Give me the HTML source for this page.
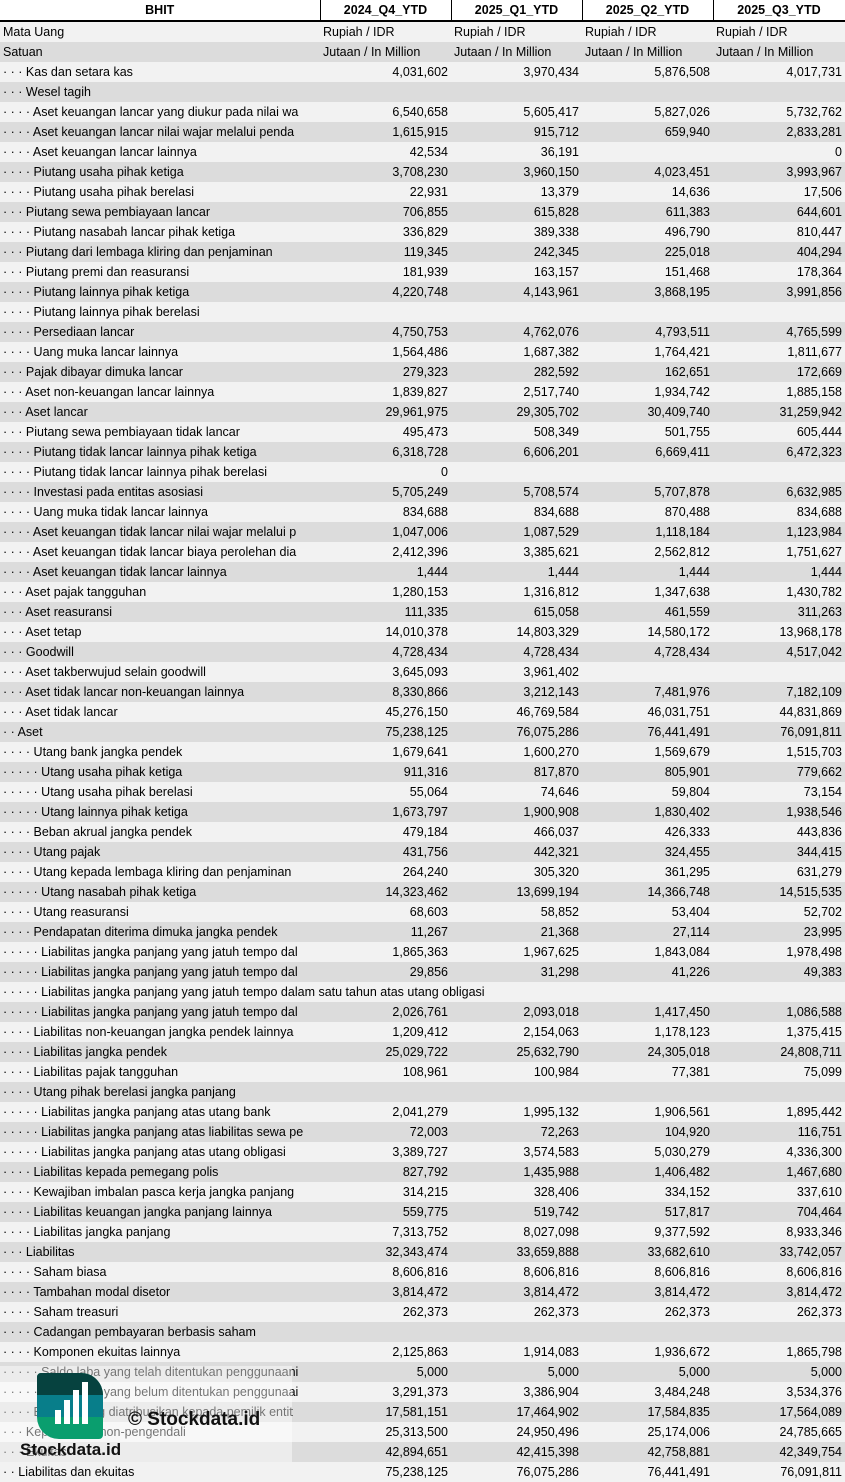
<!DOCTYPE html>
<html><head><meta charset="utf-8"><style>
*{margin:0;padding:0;box-sizing:border-box}
body{width:845px;height:1481px;overflow:hidden;background:#fff;font-family:"Liberation Sans",Arial,sans-serif;font-size:12.5px;color:#000;position:relative}
table{border-collapse:collapse;table-layout:fixed;width:845px}
td{height:20px;line-height:20px;white-space:nowrap;overflow:hidden;padding:0 3px}
td.n{text-align:right}
tr:nth-child(even) td{background:#f2f2f2}
tr:nth-child(odd) td{background:#dcdcdc}
tr.h td{background:#fff;font-weight:bold;text-align:center;border-bottom:2px solid #000;border-left:1px solid #000;height:21px;line-height:20px}
tr.h td:first-child{border-left:none}
tr.h td:last-child{border-right:1px solid #000}
.wm{position:absolute;left:0;top:1366px;width:292px;height:96px;background:rgba(255,255,255,0.45)}
.logo{position:absolute;left:37px;top:1373px;width:66px;height:66px;border-radius:4px 22px 4px 22px;overflow:hidden;background:#0a9e6e}
.logo .a{position:absolute;left:0;top:0;width:66px;height:22px;background:#06423f}
.logo .b{position:absolute;left:0;top:22px;width:66px;height:22px;background:#087e8a}
.bar{position:absolute;bottom:15px;width:6px;background:#fff}
.c1{position:absolute;left:128px;top:1409px;font-weight:bold;font-size:19px;color:#111}
.c2{position:absolute;left:20px;top:1440px;font-weight:bold;font-size:17px;color:#111}
</style></head><body>
<table>
<colgroup><col style="width:320px"><col style="width:131px"><col style="width:131px"><col style="width:131px"><col style="width:132px"></colgroup>
<tr class="h"><td>BHIT</td><td>2024_Q4_YTD</td><td>2025_Q1_YTD</td><td>2025_Q2_YTD</td><td>2025_Q3_YTD</td></tr>
<tr><td>Mata Uang</td><td>Rupiah / IDR</td><td>Rupiah / IDR</td><td>Rupiah / IDR</td><td>Rupiah / IDR</td></tr>
<tr><td>Satuan</td><td>Jutaan / In Million</td><td>Jutaan / In Million</td><td>Jutaan / In Million</td><td>Jutaan / In Million</td></tr>
<tr><td>· · · Kas dan setara kas</td><td class="n">4,031,602</td><td class="n">3,970,434</td><td class="n">5,876,508</td><td class="n">4,017,731</td></tr>
<tr><td>· · · Wesel tagih</td><td></td><td></td><td></td><td></td></tr>
<tr><td>· · · · Aset keuangan lancar yang diukur pada nilai wa</td><td class="n">6,540,658</td><td class="n">5,605,417</td><td class="n">5,827,026</td><td class="n">5,732,762</td></tr>
<tr><td>· · · · Aset keuangan lancar nilai wajar melalui penda</td><td class="n">1,615,915</td><td class="n">915,712</td><td class="n">659,940</td><td class="n">2,833,281</td></tr>
<tr><td>· · · · Aset keuangan lancar lainnya</td><td class="n">42,534</td><td class="n">36,191</td><td class="n"></td><td class="n">0</td></tr>
<tr><td>· · · · Piutang usaha pihak ketiga</td><td class="n">3,708,230</td><td class="n">3,960,150</td><td class="n">4,023,451</td><td class="n">3,993,967</td></tr>
<tr><td>· · · · Piutang usaha pihak berelasi</td><td class="n">22,931</td><td class="n">13,379</td><td class="n">14,636</td><td class="n">17,506</td></tr>
<tr><td>· · · Piutang sewa pembiayaan lancar</td><td class="n">706,855</td><td class="n">615,828</td><td class="n">611,383</td><td class="n">644,601</td></tr>
<tr><td>· · · · Piutang nasabah lancar pihak ketiga</td><td class="n">336,829</td><td class="n">389,338</td><td class="n">496,790</td><td class="n">810,447</td></tr>
<tr><td>· · · Piutang dari lembaga kliring dan penjaminan</td><td class="n">119,345</td><td class="n">242,345</td><td class="n">225,018</td><td class="n">404,294</td></tr>
<tr><td>· · · Piutang premi dan reasuransi</td><td class="n">181,939</td><td class="n">163,157</td><td class="n">151,468</td><td class="n">178,364</td></tr>
<tr><td>· · · · Piutang lainnya pihak ketiga</td><td class="n">4,220,748</td><td class="n">4,143,961</td><td class="n">3,868,195</td><td class="n">3,991,856</td></tr>
<tr><td>· · · · Piutang lainnya pihak berelasi</td><td></td><td></td><td></td><td></td></tr>
<tr><td>· · · · Persediaan lancar</td><td class="n">4,750,753</td><td class="n">4,762,076</td><td class="n">4,793,511</td><td class="n">4,765,599</td></tr>
<tr><td>· · · · Uang muka lancar lainnya</td><td class="n">1,564,486</td><td class="n">1,687,382</td><td class="n">1,764,421</td><td class="n">1,811,677</td></tr>
<tr><td>· · · Pajak dibayar dimuka lancar</td><td class="n">279,323</td><td class="n">282,592</td><td class="n">162,651</td><td class="n">172,669</td></tr>
<tr><td>· · · Aset non-keuangan lancar lainnya</td><td class="n">1,839,827</td><td class="n">2,517,740</td><td class="n">1,934,742</td><td class="n">1,885,158</td></tr>
<tr><td>· · · Aset lancar</td><td class="n">29,961,975</td><td class="n">29,305,702</td><td class="n">30,409,740</td><td class="n">31,259,942</td></tr>
<tr><td>· · · Piutang sewa pembiayaan tidak lancar</td><td class="n">495,473</td><td class="n">508,349</td><td class="n">501,755</td><td class="n">605,444</td></tr>
<tr><td>· · · · Piutang tidak lancar lainnya pihak ketiga</td><td class="n">6,318,728</td><td class="n">6,606,201</td><td class="n">6,669,411</td><td class="n">6,472,323</td></tr>
<tr><td>· · · · Piutang tidak lancar lainnya pihak berelasi</td><td class="n">0</td><td></td><td></td><td></td></tr>
<tr><td>· · · · Investasi pada entitas asosiasi</td><td class="n">5,705,249</td><td class="n">5,708,574</td><td class="n">5,707,878</td><td class="n">6,632,985</td></tr>
<tr><td>· · · · Uang muka tidak lancar lainnya</td><td class="n">834,688</td><td class="n">834,688</td><td class="n">870,488</td><td class="n">834,688</td></tr>
<tr><td>· · · · Aset keuangan tidak lancar nilai wajar melalui p</td><td class="n">1,047,006</td><td class="n">1,087,529</td><td class="n">1,118,184</td><td class="n">1,123,984</td></tr>
<tr><td>· · · · Aset keuangan tidak lancar biaya perolehan dia</td><td class="n">2,412,396</td><td class="n">3,385,621</td><td class="n">2,562,812</td><td class="n">1,751,627</td></tr>
<tr><td>· · · · Aset keuangan tidak lancar lainnya</td><td class="n">1,444</td><td class="n">1,444</td><td class="n">1,444</td><td class="n">1,444</td></tr>
<tr><td>· · · Aset pajak tangguhan</td><td class="n">1,280,153</td><td class="n">1,316,812</td><td class="n">1,347,638</td><td class="n">1,430,782</td></tr>
<tr><td>· · · Aset reasuransi</td><td class="n">111,335</td><td class="n">615,058</td><td class="n">461,559</td><td class="n">311,263</td></tr>
<tr><td>· · · Aset tetap</td><td class="n">14,010,378</td><td class="n">14,803,329</td><td class="n">14,580,172</td><td class="n">13,968,178</td></tr>
<tr><td>· · · Goodwill</td><td class="n">4,728,434</td><td class="n">4,728,434</td><td class="n">4,728,434</td><td class="n">4,517,042</td></tr>
<tr><td>· · · Aset takberwujud selain goodwill</td><td class="n">3,645,093</td><td class="n">3,961,402</td><td></td><td></td></tr>
<tr><td>· · · Aset tidak lancar non-keuangan lainnya</td><td class="n">8,330,866</td><td class="n">3,212,143</td><td class="n">7,481,976</td><td class="n">7,182,109</td></tr>
<tr><td>· · · Aset tidak lancar</td><td class="n">45,276,150</td><td class="n">46,769,584</td><td class="n">46,031,751</td><td class="n">44,831,869</td></tr>
<tr><td>· · Aset</td><td class="n">75,238,125</td><td class="n">76,075,286</td><td class="n">76,441,491</td><td class="n">76,091,811</td></tr>
<tr><td>· · · · Utang bank jangka pendek</td><td class="n">1,679,641</td><td class="n">1,600,270</td><td class="n">1,569,679</td><td class="n">1,515,703</td></tr>
<tr><td>· · · · · Utang usaha pihak ketiga</td><td class="n">911,316</td><td class="n">817,870</td><td class="n">805,901</td><td class="n">779,662</td></tr>
<tr><td>· · · · · Utang usaha pihak berelasi</td><td class="n">55,064</td><td class="n">74,646</td><td class="n">59,804</td><td class="n">73,154</td></tr>
<tr><td>· · · · · Utang lainnya pihak ketiga</td><td class="n">1,673,797</td><td class="n">1,900,908</td><td class="n">1,830,402</td><td class="n">1,938,546</td></tr>
<tr><td>· · · · Beban akrual jangka pendek</td><td class="n">479,184</td><td class="n">466,037</td><td class="n">426,333</td><td class="n">443,836</td></tr>
<tr><td>· · · · Utang pajak</td><td class="n">431,756</td><td class="n">442,321</td><td class="n">324,455</td><td class="n">344,415</td></tr>
<tr><td>· · · · Utang kepada lembaga kliring dan penjaminan</td><td class="n">264,240</td><td class="n">305,320</td><td class="n">361,295</td><td class="n">631,279</td></tr>
<tr><td>· · · · · Utang nasabah pihak ketiga</td><td class="n">14,323,462</td><td class="n">13,699,194</td><td class="n">14,366,748</td><td class="n">14,515,535</td></tr>
<tr><td>· · · · Utang reasuransi</td><td class="n">68,603</td><td class="n">58,852</td><td class="n">53,404</td><td class="n">52,702</td></tr>
<tr><td>· · · · Pendapatan diterima dimuka jangka pendek</td><td class="n">11,267</td><td class="n">21,368</td><td class="n">27,114</td><td class="n">23,995</td></tr>
<tr><td>· · · · · Liabilitas jangka panjang yang jatuh tempo dal</td><td class="n">1,865,363</td><td class="n">1,967,625</td><td class="n">1,843,084</td><td class="n">1,978,498</td></tr>
<tr><td>· · · · · Liabilitas jangka panjang yang jatuh tempo dal</td><td class="n">29,856</td><td class="n">31,298</td><td class="n">41,226</td><td class="n">49,383</td></tr>
<tr><td colspan="5">· · · · · Liabilitas jangka panjang yang jatuh tempo dalam satu tahun atas utang obligasi</td></tr>
<tr><td>· · · · · Liabilitas jangka panjang yang jatuh tempo dal</td><td class="n">2,026,761</td><td class="n">2,093,018</td><td class="n">1,417,450</td><td class="n">1,086,588</td></tr>
<tr><td>· · · · Liabilitas non-keuangan jangka pendek lainnya</td><td class="n">1,209,412</td><td class="n">2,154,063</td><td class="n">1,178,123</td><td class="n">1,375,415</td></tr>
<tr><td>· · · · Liabilitas jangka pendek</td><td class="n">25,029,722</td><td class="n">25,632,790</td><td class="n">24,305,018</td><td class="n">24,808,711</td></tr>
<tr><td>· · · · Liabilitas pajak tangguhan</td><td class="n">108,961</td><td class="n">100,984</td><td class="n">77,381</td><td class="n">75,099</td></tr>
<tr><td>· · · · Utang pihak berelasi jangka panjang</td><td></td><td></td><td></td><td></td></tr>
<tr><td>· · · · · Liabilitas jangka panjang atas utang bank</td><td class="n">2,041,279</td><td class="n">1,995,132</td><td class="n">1,906,561</td><td class="n">1,895,442</td></tr>
<tr><td>· · · · · Liabilitas jangka panjang atas liabilitas sewa pe</td><td class="n">72,003</td><td class="n">72,263</td><td class="n">104,920</td><td class="n">116,751</td></tr>
<tr><td>· · · · · Liabilitas jangka panjang atas utang obligasi</td><td class="n">3,389,727</td><td class="n">3,574,583</td><td class="n">5,030,279</td><td class="n">4,336,300</td></tr>
<tr><td>· · · · Liabilitas kepada pemegang polis</td><td class="n">827,792</td><td class="n">1,435,988</td><td class="n">1,406,482</td><td class="n">1,467,680</td></tr>
<tr><td>· · · · Kewajiban imbalan pasca kerja jangka panjang</td><td class="n">314,215</td><td class="n">328,406</td><td class="n">334,152</td><td class="n">337,610</td></tr>
<tr><td>· · · · Liabilitas keuangan jangka panjang lainnya</td><td class="n">559,775</td><td class="n">519,742</td><td class="n">517,817</td><td class="n">704,464</td></tr>
<tr><td>· · · · Liabilitas jangka panjang</td><td class="n">7,313,752</td><td class="n">8,027,098</td><td class="n">9,377,592</td><td class="n">8,933,346</td></tr>
<tr><td>· · · Liabilitas</td><td class="n">32,343,474</td><td class="n">33,659,888</td><td class="n">33,682,610</td><td class="n">33,742,057</td></tr>
<tr><td>· · · · Saham biasa</td><td class="n">8,606,816</td><td class="n">8,606,816</td><td class="n">8,606,816</td><td class="n">8,606,816</td></tr>
<tr><td>· · · · Tambahan modal disetor</td><td class="n">3,814,472</td><td class="n">3,814,472</td><td class="n">3,814,472</td><td class="n">3,814,472</td></tr>
<tr><td>· · · · Saham treasuri</td><td class="n">262,373</td><td class="n">262,373</td><td class="n">262,373</td><td class="n">262,373</td></tr>
<tr><td>· · · · Cadangan pembayaran berbasis saham</td><td></td><td></td><td></td><td></td></tr>
<tr><td>· · · · Komponen ekuitas lainnya</td><td class="n">2,125,863</td><td class="n">1,914,083</td><td class="n">1,936,672</td><td class="n">1,865,798</td></tr>
<tr><td>· · · · · Saldo laba yang telah ditentukan penggunaani</td><td class="n">5,000</td><td class="n">5,000</td><td class="n">5,000</td><td class="n">5,000</td></tr>
<tr><td>· · · · · Saldo laba yang belum ditentukan penggunaai</td><td class="n">3,291,373</td><td class="n">3,386,904</td><td class="n">3,484,248</td><td class="n">3,534,376</td></tr>
<tr><td>· · · · Ekuitas yang diatribusikan kepada pemilik entit</td><td class="n">17,581,151</td><td class="n">17,464,902</td><td class="n">17,584,835</td><td class="n">17,564,089</td></tr>
<tr><td>· · · Kepentingan non-pengendali</td><td class="n">25,313,500</td><td class="n">24,950,496</td><td class="n">25,174,006</td><td class="n">24,785,665</td></tr>
<tr><td>· · · Ekuitas</td><td class="n">42,894,651</td><td class="n">42,415,398</td><td class="n">42,758,881</td><td class="n">42,349,754</td></tr>
<tr><td>· · Liabilitas dan ekuitas</td><td class="n">75,238,125</td><td class="n">76,075,286</td><td class="n">76,441,491</td><td class="n">76,091,811</td></tr>
</table>
<div class="wm"></div>
<div class="logo"><div class="a"></div><div class="b"></div>
<div class="bar" style="left:18px;height:14px"></div>
<div class="bar" style="left:27px;height:24px"></div>
<div class="bar" style="left:36px;height:34px"></div>
<div class="bar" style="left:45px;height:42px"></div>
</div>
<div class="c1">© Stockdata.id</div>
<div class="c2">Stockdata.id</div>
</body></html>
